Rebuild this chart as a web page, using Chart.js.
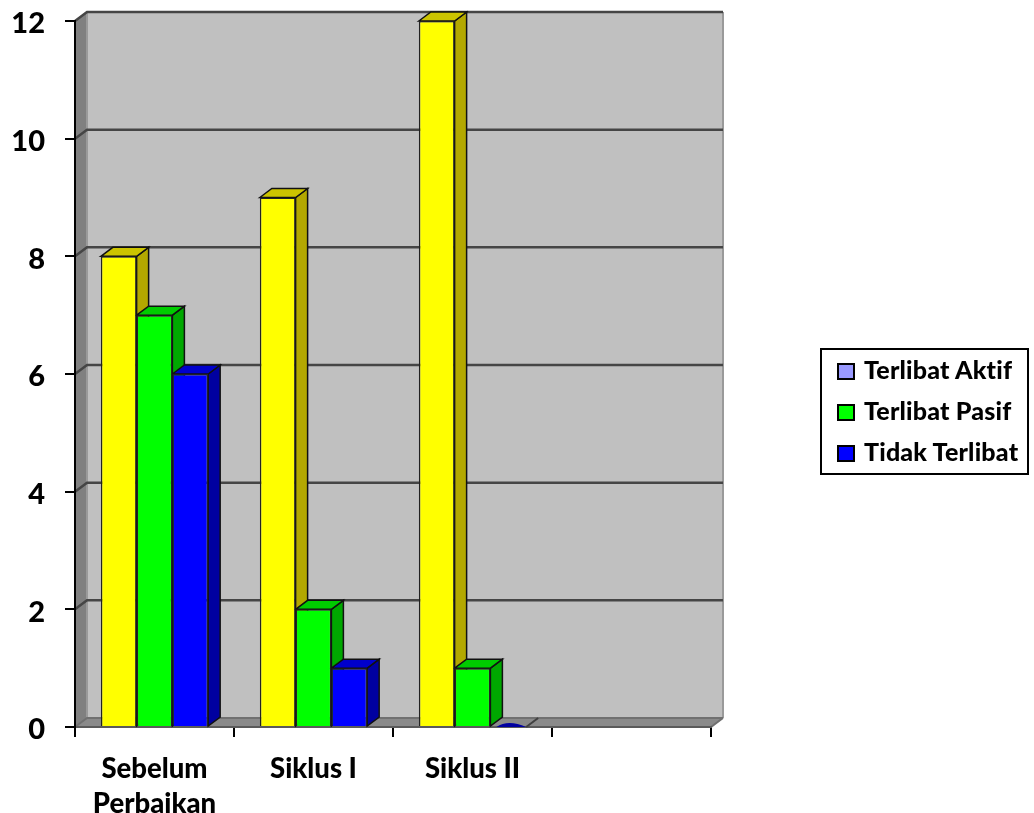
<!DOCTYPE html>
<html>
<head>
<meta charset="utf-8">
<title>Keterlibatan</title>
<script src="https://cdn.jsdelivr.net/npm/chart.js@4"></script>
<style>
  html, body { margin: 0; padding: 0; background: #fff; }
  #wrap { position: relative; width: 1034px; height: 813px; overflow: hidden; }
  #chart { position: absolute; left: 0; top: 0; filter: blur(0.5px); }
  #legend {
    position: absolute; left: 820px; top: 348px; width: 205px; height: 123px;
    border: 2px solid #000; font: 900 25px Lato, sans-serif; color: #000;
    filter: blur(0.3px);
  }
  .row { position: absolute; left: 15px; height: 30px; line-height: 30px; white-space: nowrap; letter-spacing: 0.2px; }
  .row i {
    display: inline-block; width: 14px; height: 13px; border: 2px solid #000;
    margin-right: 9px; vertical-align: -1px;
  }
</style>
</head>
<body>
<div id="wrap">
  <canvas id="chart" width="1034" height="813"></canvas>
  <div id="legend"></div>
</div>
<script>
const categories = [["Sebelum", "Perbaikan"], "Siklus I", "Siklus II", ""];
const seriesNames = ["Terlibat Aktif", "Terlibat Pasif", "Tidak Terlibat"];
const terlibatAktif = [8, 9, 12, null];
const terlibatPasif = [7, 2, 1, null];
const tidakTerlibat = [6, 1, 0, null];

const barColors = ["#ffff00", "#00ff00", "#0000ff"];
const sideColors = ["#b3a800", "#00a800", "#0000a0"];
const topColors = ["#ccc400", "#00cc00", "#0000cc"];
const legendColors = ["#9999ff", "#00ff00", "#0000ff"];

const depthX = 12;
const depthY = 9;
const labelFont = "Lato, sans-serif";

function poly(ctx, pts, fill, stroke) {
  ctx.beginPath();
  pts.forEach((p, i) => (i ? ctx.lineTo(p[0], p[1]) : ctx.moveTo(p[0], p[1])));
  ctx.closePath();
  if (fill) {
    ctx.fillStyle = fill;
    ctx.fill();
  }
  if (stroke) {
    ctx.strokeStyle = stroke;
    ctx.lineWidth = 1.5;
    ctx.stroke();
  }
}

const box3d = {
  id: "box3d",
  // walls, floor and gridlines of the 3d box
  beforeDraw(chart) {
    const ctx = chart.ctx;
    const { left, right, top, bottom } = chart.chartArea;
    ctx.save();
    poly(ctx, [[left + depthX, top - depthY], [right + depthX, top - depthY], [right + depthX, bottom - depthY], [left + depthX, bottom - depthY]], "#c0c0c0");
    poly(ctx, [[left, top], [left + depthX, top - depthY], [left + depthX, bottom - depthY], [left, bottom]], "#808080");
    poly(ctx, [[left, bottom], [left + depthX, bottom - depthY], [right + depthX, bottom - depthY], [right, bottom]], "#8a8a8a");

    ctx.strokeStyle = "#9a9a9a";
    ctx.lineWidth = 2;
    ctx.beginPath();
    ctx.moveTo(right + depthX, top - depthY);
    ctx.lineTo(right + depthX, bottom - depthY);
    ctx.moveTo(left + depthX, top - depthY);
    ctx.lineTo(left + depthX, bottom - depthY);
    ctx.stroke();

    ctx.strokeStyle = "#454545";
    ctx.lineWidth = 2.5;
    chart.scales.y.ticks.forEach((t) => {
      if (t.value === 0) return;
      const y = chart.scales.y.getPixelForValue(t.value);
      ctx.beginPath();
      ctx.moveTo(left, y);
      ctx.lineTo(left + depthX, y - depthY);
      ctx.lineTo(right + depthX, y - depthY);
      ctx.stroke();
    });

    // back edge of the floor is lighter than the gridlines
    ctx.strokeStyle = "#707070";
    ctx.lineWidth = 2;
    ctx.beginPath();
    ctx.moveTo(left, bottom);
    ctx.lineTo(left + depthX, bottom - depthY);
    ctx.lineTo(right + depthX, bottom - depthY);
    ctx.moveTo(left, bottom);
    ctx.lineTo(right, bottom);
    ctx.lineTo(right + depthX, bottom - depthY);
    ctx.stroke();
    ctx.restore();
  },
  // side and top faces go under all the front faces, left to right
  beforeDatasetsDraw(chart) {
    const ctx = chart.ctx;
    ctx.save();
    chart.data.datasets.forEach((ds, i) => {
      chart.getDatasetMeta(i).data.forEach((el, n) => {
        if (ds.data[n] === null) return;
        const l = el.x - el.width / 2;
        const r = el.x + el.width / 2;
        const b = el.base;
        const t = el.y;
        if (ds.data[n] === 0) {
          // zero height bar: only a small bump on the floor
          ctx.fillStyle = sideColors[i];
          ctx.beginPath();
          ctx.moveTo(l + 6, b);
          ctx.quadraticCurveTo(el.x, b - 8, r, b);
          ctx.closePath();
          ctx.fill();
          ctx.strokeStyle = "#404040";
          ctx.lineWidth = 2;
          ctx.beginPath();
          ctx.moveTo(r, b);
          ctx.lineTo(r + depthX, b - depthY);
          ctx.stroke();
          return;
        }
        poly(ctx, [[r, t], [r + depthX, t - depthY], [r + depthX, b - depthY], [r, b]], sideColors[i], "#111");
        poly(ctx, [[l, t], [l + depthX, t - depthY], [r + depthX, t - depthY], [r, t]], topColors[i], "#111");
      });
    });
    ctx.restore();
  },
};

new Chart(document.getElementById("chart").getContext("2d"), {
  type: "bar",
  plugins: [box3d],
  data: {
    labels: categories,
    datasets: [terlibatAktif, terlibatPasif, tidakTerlibat].map((data, i) => ({
      label: seriesNames[i],
      data: data,
      clip: false,
      backgroundColor: barColors[i],
      borderColor: "#222",
      borderWidth: (ctx) => (ctx.raw === 0 ? 0 : 1.5),
      categoryPercentage: 0.675,
      barPercentage: 1,
    })),
  },
  options: {
    responsive: false,
    animation: false,
    layout: { padding: { top: 21, right: 323, bottom: 0, left: 0 } },
    plugins: { legend: { display: false }, tooltip: { enabled: false } },
    scales: {
      x: {
        afterFit: (scale) => { scale.height = 86; },
        border: { color: "#5a5a5a", width: 2 },
        grid: { drawOnChartArea: false, color: "#000", lineWidth: 2, tickLength: 10 },
        ticks: {
          color: "#000",
          padding: 14,
          maxRotation: 0,
          autoSkip: false,
          font: { family: labelFont, weight: "900", size: 27.5, lineHeight: 1.29 },
        },
      },
      y: {
        min: 0,
        max: 12,
        afterFit: (scale) => {
          scale.width = 75;
          scale.paddingTop = 0;
          scale.paddingBottom = 0;
        },
        border: { color: "#000", width: 2 },
        grid: { drawOnChartArea: false, color: "#000", lineWidth: 2, tickLength: 10 },
        ticks: {
          stepSize: 2,
          color: "#000",
          padding: 20,
          labelOffset: 3,
          font: { family: labelFont, weight: "900", size: 29 },
        },
      },
    },
  },
});

const legend = document.getElementById("legend");
seriesNames.forEach((name, i) => {
  const row = document.createElement("div");
  row.className = "row";
  row.style.top = 4 + i * 41 + "px";
  const swatch = document.createElement("i");
  swatch.style.background = legendColors[i];
  row.appendChild(swatch);
  row.appendChild(document.createTextNode(name));
  legend.appendChild(row);
});
</script>
</body>
</html>
